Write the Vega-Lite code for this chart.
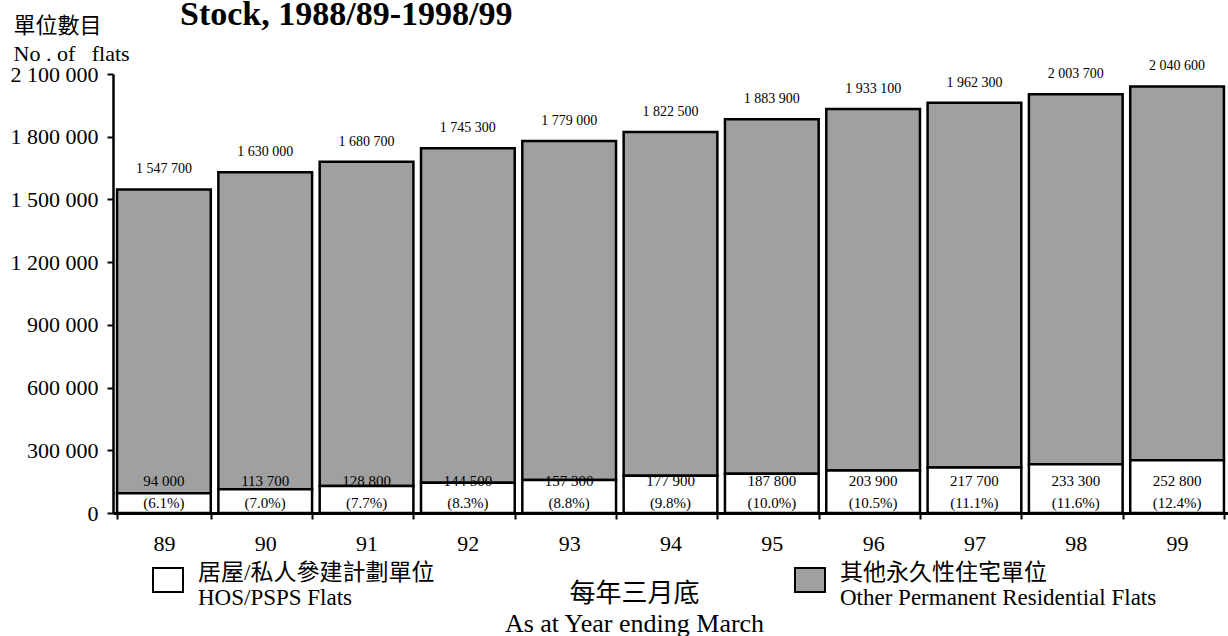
{
  "$schema": "https://vega.github.io/schema/vega-lite/v6.json",
  "width": 1115,
  "height": 439,
  "autosize": {"type": "none"},
  "padding": {"left": 113, "top": 74, "right": 0, "bottom": 123},
  "background": "white",
  "config": {
    "view": {"stroke": null},
    "locale": {"number": {"decimal": ".", "thousands": " ", "grouping": [3], "currency": ["", ""]}},
    "axis": {"domainColor": "black", "tickColor": "black", "labelColor": "black", "titleColor": "black", "grid": false, "labelFont": "Liberation Serif", "labelFontSize": 22}
  },
  "title": {
    "text": "Stock, 1988/89-1998/99",
    "anchor": "start",
    "frame": "group",
    "font": "Liberation Serif",
    "fontSize": 34,
    "fontWeight": "bold",
    "color": "black",
    "baseline": "alphabetic",
    "dx": 67,
    "dy": 45,
    "offset": 0
  },
  "data": {
    "values": [
      {"year": "89", "total": 1547700, "hos": 94000, "pct": "(6.1%)"},
      {"year": "90", "total": 1630000, "hos": 113700, "pct": "(7.0%)"},
      {"year": "91", "total": 1680700, "hos": 128800, "pct": "(7.7%)"},
      {"year": "92", "total": 1745300, "hos": 144500, "pct": "(8.3%)"},
      {"year": "93", "total": 1779000, "hos": 157300, "pct": "(8.8%)"},
      {"year": "94", "total": 1822500, "hos": 177900, "pct": "(9.8%)"},
      {"year": "95", "total": 1883900, "hos": 187800, "pct": "(10.0%)"},
      {"year": "96", "total": 1933100, "hos": 203900, "pct": "(10.5%)"},
      {"year": "97", "total": 1962300, "hos": 217700, "pct": "(11.1%)"},
      {"year": "98", "total": 2003700, "hos": 233300, "pct": "(11.6%)"},
      {"year": "99", "total": 2040600, "hos": 252800, "pct": "(12.4%)"}
    ]
  },
  "encoding": {
    "x": {
      "field": "year",
      "type": "ordinal",
      "sort": "ascending",
      "scale": {"paddingInner": 0.075, "paddingOuter": 0.04},
      "axis": {
        "labelAngle": 0,
        "tickBand": "extent",
        "tickSize": 6,
        "tickWidth": 2,
        "domainWidth": 3,
        "labelPadding": 14,
        "labelFontSize": 22,
        "title": ["每年三月底", "As at Year ending March"],
        "titleFont": "Liberation Serif, Noto Sans CJK TC",
        "titleFontSize": 26,
        "titleFontWeight": "normal",
        "titleAlign": "center",
        "titleBaseline": "alphabetic",
        "titleLineHeight": 30,
        "titleX": 521,
        "titleY": 88
      }
    }
  },
  "layer": [
    {
      "mark": {"type": "bar", "stroke": "black", "strokeWidth": 2.5},
      "encoding": {
        "y": {
          "field": "total",
          "type": "quantitative",
          "scale": {"domain": [0, 2100000], "nice": false},
          "axis": {
            "values": [0, 300000, 600000, 900000, 1200000, 1500000, 1800000, 2100000],
            "format": ",d",
            "tickSize": 6,
            "tickWidth": 2,
            "domainWidth": 2.5,
            "labelPadding": 9,
            "labelFontSize": 22,
            "title": ["單位數目", "No . of \u00a0 flats"],
            "titleFont": "Liberation Serif, Noto Sans CJK TC",
            "titleFontSize": 22,
            "titleFontWeight": "normal",
            "titleAngle": 0,
            "titleAlign": "left",
            "titleBaseline": "alphabetic",
            "titleLineHeight": 28,
            "titleX": -100,
            "titleY": -42
          }
        },
        "y2": {"field": "hos"},
        "color": {
          "datum": "Other",
          "type": "nominal",
          "scale": {"domain": ["HOS", "Other"], "range": ["#ffffff", "#a0a0a0"]},
          "legend": {
            "orient": "none",
            "legendX": 39,
            "legendY": 490,
            "direction": "horizontal",
            "columns": 2,
            "columnPadding": 356,
            "padding": 0,
            "title": null,
            "symbolType": "M-1,-0.8L1,-0.8L1,0.8L-1,0.8Z",
            "symbolSize": 900,
            "symbolStrokeColor": "black",
            "symbolStrokeWidth": 2,
            "symbolOpacity": 1,
            "labelOffset": 14,
            "labelBaseline": "alphabetic",
            "labelFont": "Liberation Serif, Noto Sans CJK TC",
            "labelFontSize": 23,
            "labelColor": "black",
            "labelLimit": 0,
            "labelExpr": "datum.value == 'HOS' ? ['居屋/私人參建計劃單位', 'HOS/PSPS Flats'] : ['其他永久性住宅單位', 'Other Permanent Residential Flats']"
          }
        }
      }
    },
    {
      "mark": {"type": "bar", "stroke": "black", "strokeWidth": 2.5},
      "encoding": {
        "y": {"field": "hos", "type": "quantitative"},
        "color": {"datum": "HOS", "type": "nominal"}
      }
    },
    {
      "mark": {"type": "text", "font": "Liberation Serif", "fontSize": 14, "baseline": "middle", "dy": -20, "color": "black"},
      "encoding": {
        "y": {"field": "total", "type": "quantitative"},
        "text": {"field": "total", "type": "quantitative", "format": ",d"}
      }
    },
    {
      "mark": {"type": "text", "font": "Liberation Serif", "fontSize": 15, "baseline": "middle", "dy": -32, "color": "black"},
      "encoding": {
        "y": {"datum": 0, "type": "quantitative"},
        "text": {"field": "hos", "type": "quantitative", "format": ",d"}
      }
    },
    {
      "mark": {"type": "text", "font": "Liberation Serif", "fontSize": 15, "baseline": "middle", "dy": -10, "color": "black"},
      "encoding": {
        "y": {"datum": 0, "type": "quantitative"},
        "text": {"field": "pct", "type": "nominal"}
      }
    }
  ]
}
